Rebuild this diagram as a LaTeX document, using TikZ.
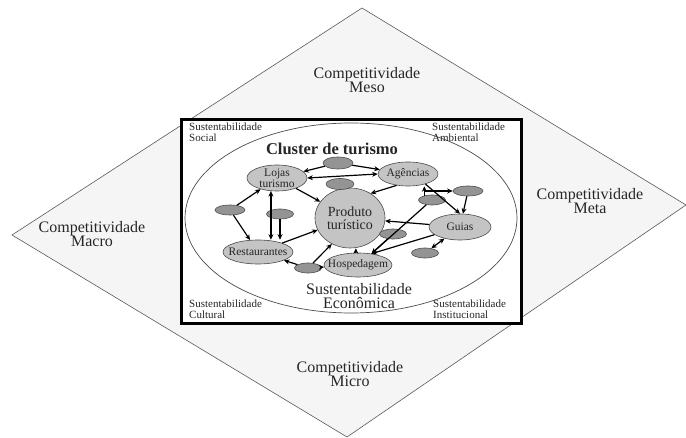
\documentclass[tikz,border=0pt]{standalone}
\usepackage{fontspec}
\setmainfont{Liberation Serif}
\usetikzlibrary{shapes.geometric,arrows.meta}
\begin{document}
\begin{tikzpicture}[x=1pt,y=-1pt,
  bignode/.style={ellipse,draw=black!70,fill=black!23,inner sep=0pt,line width=0.6pt},
  smallnode/.style={ellipse,draw=black!70,fill=black!42,inner sep=0pt,line width=0.6pt},
  nlbl/.style={font=\fontsize{11.5}{10}\selectfont,align=center,text=black!85,inner sep=0pt},
  arr/.style={-{Stealth[length=5.5pt,width=5pt]},line width=1.2pt},
  darr/.style={{Stealth[length=5.5pt,width=5pt]}-{Stealth[length=5.5pt,width=5pt]},line width=1.2pt},
  lbl/.style={font=\fontsize{16}{14.5}\selectfont,align=center,text=black!85},
  corner/.style={font=\fontsize{11}{11}\selectfont,align=left,inner sep=0pt,text=black!85}]
\useasboundingbox (0,0) rectangle (686,438);
% outer diamond
\draw[fill=black!4,draw=black!65,line width=0.6pt] (362,8) -- (686,205) -- (347,437) -- (12,235) -- cycle;
% frame and ellipse
\draw[line width=3pt,fill=white] (181.5,119.5) rectangle (521.5,323.5);
\draw[black!70,line width=0.7pt] (351,218) ellipse [x radius=166, y radius=95];
% outer labels
\node[lbl] (meso) at (367,80) {Competitividade\\Meso};
\node[lbl] (macro) at (92,234) {Competitividade\\Macro};
\node[lbl] (meta) at (590,201) {Competitividade\\Meta};
\node[lbl] (micro) at (350,374) {Competitividade\\Micro};
% corner labels
\node[corner,anchor=north west] (social) at (189,123) {Sustentabilidade\\Social};
\node[corner,anchor=north west] (ambiental) at (432,123) {Sustentabilidade\\Ambiental};
\node[corner,anchor=north west] (cultural) at (189,300) {Sustentabilidade\\Cultural};
\node[corner,anchor=north west] (institucional) at (433,300) {Sustentabilidade\\Institucional};
\node[lbl] (economica) at (359,296) {Sustentabilidade\\Econômica};
\node[font=\fontsize{16.5}{16}\selectfont\bfseries,text=black!85] (cluster) at (332,149) {Cluster de turismo};
% main nodes
\node[bignode,minimum width=60pt,minimum height=26pt,label={[nlbl]center:Lojas\\turismo}] (lojas) at (277,178) {};
\node[bignode,minimum width=60pt,minimum height=24pt,label={[nlbl]center:Agências}] (agencias) at (408,174) {};
\node[bignode,minimum width=70pt,minimum height=60pt,label={[nlbl,font=\fontsize{14}{13.5}\selectfont]center:Produto\\turístico}] (produto) at (350,218) {};
\node[bignode,minimum width=62pt,minimum height=26pt,label={[nlbl]center:Guias}] (guias) at (460,227) {};
\node[bignode,minimum width=70pt,minimum height=24pt,label={[nlbl]center:Restaurantes}] (rest) at (258,252) {};
\node[bignode,minimum width=68pt,minimum height=24pt,label={[nlbl]center:Hospedagem}] (hosp) at (358,265) {};
% small nodes
\node[smallnode,minimum width=30pt,minimum height=12pt] (s1) at (338,163) {};
\node[smallnode,minimum width=28pt,minimum height=11pt] (s2) at (340,184) {};
\node[smallnode,minimum width=30pt,minimum height=10pt] (s3) at (230,210) {};
\node[smallnode,minimum width=27pt,minimum height=10pt] (s4) at (280,214) {};
\node[smallnode,minimum width=30pt,minimum height=10pt] (s5) at (468,191) {};
\node[smallnode,minimum width=27pt,minimum height=10pt] (s6) at (432,200) {};
\node[smallnode,minimum width=27pt,minimum height=10pt] (s7) at (393,234) {};
\node[smallnode,minimum width=27pt,minimum height=10pt] (s8) at (425,253) {};
\node[smallnode,minimum width=27pt,minimum height=10pt] (s9) at (308,268) {};
% connectors
\draw[arr] (s1) -- (lojas);
\draw[arr] (s1) -- (agencias);
\draw[darr] (lojas.east) -- (agencias.west);
\draw[arr] (agencias.225) -- (produto.50);
\draw[arr] (lojas) -- (produto);
\draw[arr] (s3) -- (lojas);
\draw[arr] (s3) -- (rest);
\draw[darr] (lojas.245) -- (lojas.245 |- rest.north);
\draw[arr] (s4) -- (s4 |- rest.north);
\draw[arr] (rest) -- (produto);
\draw[arr] (s9) -- (rest);
\draw[arr] (s9) -- (hosp);
\draw[arr] (s9.45) -- (produto.235);
\draw[arr] (hosp.100) -- (hosp.100 |- produto.south);
\draw[arr] (guias) -- (produto);
\draw[arr] (s6.220) -- (hosp.40);
\draw[arr] (s7) -- (hosp.40);
\draw[arr] (guias) -- (hosp.40);
\draw[darr] (s8) -- (guias);
\draw[arr] (s6.150) -- (s6.150 |- agencias.south);
\draw[arr] (s6.150 |- s5.west) -- (s5.west);
\draw[arr] (agencias.330) -- (guias.north);
\draw[arr] (s5) -- (guias);
\end{tikzpicture}
\end{document}
